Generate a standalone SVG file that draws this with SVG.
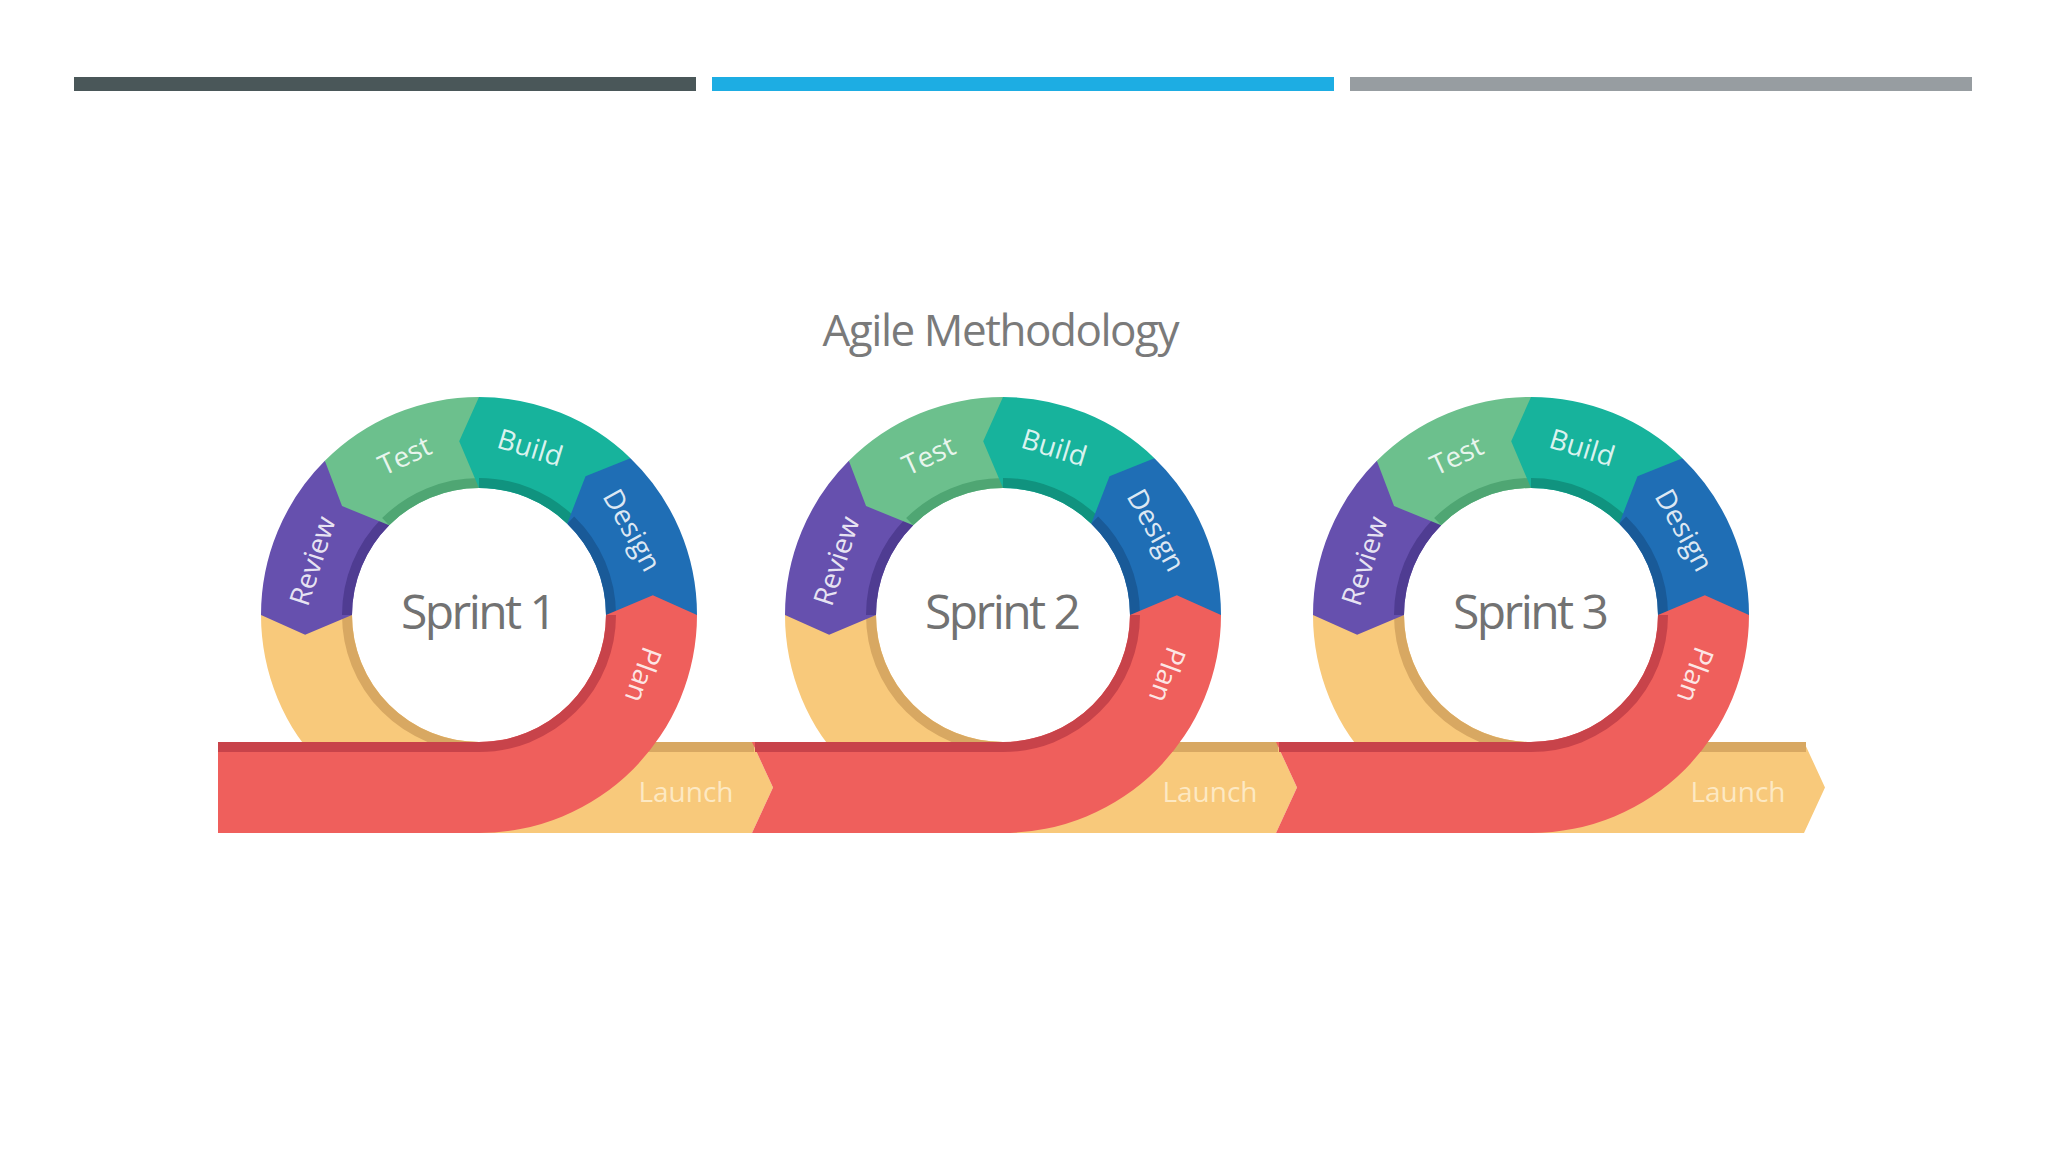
<svg xmlns="http://www.w3.org/2000/svg" width="2048" height="1152" viewBox="0 0 2048 1152">
<defs>
<style>
text{font-family:"Open Sans","Liberation Sans",sans-serif}
.title{font-size:44px;fill:#7a7a7a}
.sprint{font-size:48px;fill:#727272}
.lbl{font-size:28px;fill:#ffffff;fill-opacity:.86}
.lnc{font-size:28px;fill:#fff4dc;fill-opacity:.75}
.plan{fill:#EF5F5C}.plan-b{stroke:#C8434A}
.design{fill:#1F6EB5}.design-b{stroke:#195A98}
.build{fill:#17B39C}.build-b{stroke:#10937F}
.test{fill:#6CC08D}.test-b{stroke:#4FA673}
.review{fill:#6650AE}.review-b{stroke:#4F3C92}
.launchf{fill:#F8C97B}.launch-b{stroke:#D8A862}
.band{fill:none;stroke-width:10}
</style>
</defs>
<rect width="2048" height="1152" fill="#ffffff"/>
<g id="header-bars">
<rect x="74" y="77" width="622" height="14" fill="#4A5759"/>
<rect x="712" y="77" width="622" height="14" fill="#1DADE3"/>
<rect x="1350" y="77" width="622" height="14" fill="#979DA1"/>
</g>
<g id="title"><text class="title" x="1001" y="346" text-anchor="middle" textLength="357">Agile Methodology</text></g>

<g id="sprint-1" transform="translate(479,615)">
<path class="launchf" d="M -218 0 A 218 218 0 0 0 0 218 L 273 218 L 294 172.5 L 273 127 L 0 127 A 127 127 0 0 1 -127 0 Z"/>
<path class="band launch-b" d="M -132 0 A 132 132 0 0 0 0 132 L 275 132"/>
<path class="review" d="M -154.15 -154.15 A 218 218 0 0 0 -218 0 L -173.87 19.81 L -127 0 A 127 127 0 0 1 -89.8 -89.8 Z"/>
<path class="band review-b" d="M -93.34 -93.34 A 132 132 0 0 0 -132 0"/>
<path class="test" d="M 0 -218 A 218 218 0 0 0 -154.15 -154.15 L -136.96 -108.94 L -89.8 -89.8 A 127 127 0 0 1 0 -127 Z"/>
<path class="band test-b" d="M 0 -132 A 132 132 0 0 0 -93.34 -93.34"/>
<path class="build" d="M 151.44 -156.82 A 218 218 0 0 0 0 -218 L -19.81 -173.87 L 0 -127 A 127 127 0 0 1 88.22 -91.36 Z"/>
<path class="band build-b" d="M 91.69 -94.95 A 132 132 0 0 0 0 -132"/>
<path class="design" d="M 218 0 A 218 218 0 0 0 151.44 -156.82 L 106.53 -138.84 L 88.22 -91.36 A 127 127 0 0 1 127 0 Z"/>
<path class="band design-b" d="M 132 0 A 132 132 0 0 0 91.69 -94.95"/>
<path class="plan" d="M -261 127 L 0 127 A 127 127 0 0 0 127 0 L 173.87 -19.81 L 218 0 A 218 218 0 0 1 0 218 L -261 218 Z"/>
<path class="band plan-b" d="M -261 132 L 0 132 A 132 132 0 0 0 132 0"/>
<text class="lbl" transform="translate(-74.4,-159.5) rotate(-25)" text-anchor="middle" dy=".35em">Test</text>
<text class="lbl" transform="translate(51.2,-167.4) rotate(17)" text-anchor="middle" dy=".35em">Build</text>
<text class="lbl" transform="translate(153.1,-84.9) rotate(61)" text-anchor="middle" dy=".35em">Design</text>
<text class="lbl" transform="translate(164.4,59.9) rotate(110)" text-anchor="middle" dy=".35em">Plan</text>
<text class="lbl" transform="translate(-166.4,-54.1) rotate(-72)" text-anchor="middle" dy=".35em">Review</text>
<text class="lnc" x="207" y="187" text-anchor="middle">Launch</text>
<text class="sprint" x="0" y="14" text-anchor="middle" textLength="156">Sprint 1</text>
</g>

<g id="sprint-2" transform="translate(1003,615)">
<path class="launchf" d="M -218 0 A 218 218 0 0 0 0 218 L 273 218 L 294 172.5 L 273 127 L 0 127 A 127 127 0 0 1 -127 0 Z"/>
<path class="band launch-b" d="M -132 0 A 132 132 0 0 0 0 132 L 275 132"/>
<path class="review" d="M -154.15 -154.15 A 218 218 0 0 0 -218 0 L -173.87 19.81 L -127 0 A 127 127 0 0 1 -89.8 -89.8 Z"/>
<path class="band review-b" d="M -93.34 -93.34 A 132 132 0 0 0 -132 0"/>
<path class="test" d="M 0 -218 A 218 218 0 0 0 -154.15 -154.15 L -136.96 -108.94 L -89.8 -89.8 A 127 127 0 0 1 0 -127 Z"/>
<path class="band test-b" d="M 0 -132 A 132 132 0 0 0 -93.34 -93.34"/>
<path class="build" d="M 151.44 -156.82 A 218 218 0 0 0 0 -218 L -19.81 -173.87 L 0 -127 A 127 127 0 0 1 88.22 -91.36 Z"/>
<path class="band build-b" d="M 91.69 -94.95 A 132 132 0 0 0 0 -132"/>
<path class="design" d="M 218 0 A 218 218 0 0 0 151.44 -156.82 L 106.53 -138.84 L 88.22 -91.36 A 127 127 0 0 1 127 0 Z"/>
<path class="band design-b" d="M 132 0 A 132 132 0 0 0 91.69 -94.95"/>
<path class="plan" d="M -251 127 L 0 127 A 127 127 0 0 0 127 0 L 173.87 -19.81 L 218 0 A 218 218 0 0 1 0 218 L -251 218 L -230 172.5 Z"/>
<path class="band plan-b" d="M -248 132 L 0 132 A 132 132 0 0 0 132 0"/>
<text class="lbl" transform="translate(-74.4,-159.5) rotate(-25)" text-anchor="middle" dy=".35em">Test</text>
<text class="lbl" transform="translate(51.2,-167.4) rotate(17)" text-anchor="middle" dy=".35em">Build</text>
<text class="lbl" transform="translate(153.1,-84.9) rotate(61)" text-anchor="middle" dy=".35em">Design</text>
<text class="lbl" transform="translate(164.4,59.9) rotate(110)" text-anchor="middle" dy=".35em">Plan</text>
<text class="lbl" transform="translate(-166.4,-54.1) rotate(-72)" text-anchor="middle" dy=".35em">Review</text>
<text class="lnc" x="207" y="187" text-anchor="middle">Launch</text>
<text class="sprint" x="0" y="14" text-anchor="middle" textLength="156">Sprint 2</text>
</g>

<g id="sprint-3" transform="translate(1531,615)">
<path class="launchf" d="M -218 0 A 218 218 0 0 0 0 218 L 273 218 L 294 172.5 L 273 127 L 0 127 A 127 127 0 0 1 -127 0 Z"/>
<path class="band launch-b" d="M -132 0 A 132 132 0 0 0 0 132 L 275 132"/>
<path class="review" d="M -154.15 -154.15 A 218 218 0 0 0 -218 0 L -173.87 19.81 L -127 0 A 127 127 0 0 1 -89.8 -89.8 Z"/>
<path class="band review-b" d="M -93.34 -93.34 A 132 132 0 0 0 -132 0"/>
<path class="test" d="M 0 -218 A 218 218 0 0 0 -154.15 -154.15 L -136.96 -108.94 L -89.8 -89.8 A 127 127 0 0 1 0 -127 Z"/>
<path class="band test-b" d="M 0 -132 A 132 132 0 0 0 -93.34 -93.34"/>
<path class="build" d="M 151.44 -156.82 A 218 218 0 0 0 0 -218 L -19.81 -173.87 L 0 -127 A 127 127 0 0 1 88.22 -91.36 Z"/>
<path class="band build-b" d="M 91.69 -94.95 A 132 132 0 0 0 0 -132"/>
<path class="design" d="M 218 0 A 218 218 0 0 0 151.44 -156.82 L 106.53 -138.84 L 88.22 -91.36 A 127 127 0 0 1 127 0 Z"/>
<path class="band design-b" d="M 132 0 A 132 132 0 0 0 91.69 -94.95"/>
<path class="plan" d="M -255 127 L 0 127 A 127 127 0 0 0 127 0 L 173.87 -19.81 L 218 0 A 218 218 0 0 1 0 218 L -255 218 L -234 172.5 Z"/>
<path class="band plan-b" d="M -252 132 L 0 132 A 132 132 0 0 0 132 0"/>
<text class="lbl" transform="translate(-74.4,-159.5) rotate(-25)" text-anchor="middle" dy=".35em">Test</text>
<text class="lbl" transform="translate(51.2,-167.4) rotate(17)" text-anchor="middle" dy=".35em">Build</text>
<text class="lbl" transform="translate(153.1,-84.9) rotate(61)" text-anchor="middle" dy=".35em">Design</text>
<text class="lbl" transform="translate(164.4,59.9) rotate(110)" text-anchor="middle" dy=".35em">Plan</text>
<text class="lbl" transform="translate(-166.4,-54.1) rotate(-72)" text-anchor="middle" dy=".35em">Review</text>
<text class="lnc" x="207" y="187" text-anchor="middle">Launch</text>
<text class="sprint" x="0" y="14" text-anchor="middle" textLength="156">Sprint 3</text>
</g>
</svg>
